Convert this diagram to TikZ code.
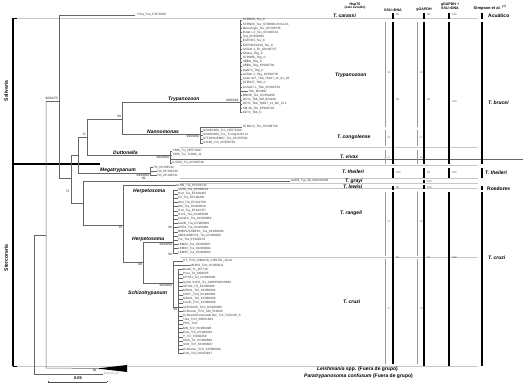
\documentclass[tikz,border=0pt]{standalone}
\usepackage{fontspec}
\setmainfont{Liberation Sans}
\begin{document}
\begin{tikzpicture}[x=1pt,y=-1pt,
 tr/.style={draw=black!60,line width=0.5pt},
 sep/.style={draw=black!22,line width=0.5pt},
 tx/.style={font=\fontsize{3.1}{3.3}\selectfont,inner sep=0pt,anchor=west,text=black!80},
 bs/.style={font=\fontsize{3.2}{3.4}\selectfont,inner sep=0.3pt,text=black!85},
 cl/.style={font=\fontsize{5}{5.5}\selectfont\bfseries\itshape,inner sep=0pt},
 hd/.style={font=\fontsize{3.6}{4}\selectfont\bfseries,inner sep=0pt,align=center},
 gbar/.style={draw=black!40,line width=0.9pt},
 kbar/.style={draw=black,line width=1.9pt},
 gn/.style={font=\fontsize{2.6}{2.8}\selectfont,inner sep=0pt,anchor=west,text=black!50},
 kn/.style={font=\fontsize{2.6}{2.8}\selectfont,inner sep=0pt,anchor=west,text=black!75},
 rl/.style={font=\fontsize{5}{5.5}\selectfont\bfseries,inner sep=0pt,anchor=west},
]
\useasboundingbox (0,0) rectangle (523,385);

% ---------- separators ----------
\draw[sep] (13,18.5) -- (478,18.5);
\foreach \yy in {147.5,165.3,177.8,183.4,188.3,257.6} {\draw[sep] (180,\yy) -- (478,\yy);}
\draw[sep] (13,366.5) -- (478,366.5);

% ---------- left bracket ----------
\draw[black,line width=1.1pt] (13,18.5) -- (13,366.5);
\draw[black,line width=1.1pt] (13,18.5) -- (17,18.5);
\draw[black,line width=1.1pt] (13,366.5) -- (17,366.5);
\draw[black,line width=1.1pt] (13,164) -- (100,164);
\fill[black] (13,164) circle (1.3pt);
\node[font=\fontsize{5}{5.5}\selectfont\bfseries,rotate=90,inner sep=0pt] (sal) at (6,91) {Salivaria};
\node[font=\fontsize{5}{5.5}\selectfont\bfseries,rotate=90,inner sep=0pt] (ster) at (6,258) {Stercoraria};

% ---------- backbone ----------
\coordinate (root) at (34,235);
\coordinate (n46) at (46,235);
\draw[tr] (34,235) -- (34,374) -- (103,374);
\node[tx,text=black!50] (pc) at (104,374) {CUL13\_Pc};
\draw[tr] (root) -- (n46);
\draw[tr] (46,101) -- (46,368) -- (97,368.5);
\fill[black] (97,368.5) -- (127,365) -- (127,372) -- cycle;
\node[bs,anchor=north east] (b99l) at (97,369) {99};
\draw[tr] (46,101) -- (59,101);
\node[bs,anchor=south east] (b868475) at (58.5,100) {86/84/75};
\draw[tr] (59,15) -- (59,178);
\draw[tr] (59,15) -- (135,15);
\node[tx] (tca) at (137,15) {TrCa\_Tca\_FJ970030};
\draw[tr] (59,178) -- (71,178);
\draw[tr] (71,155) -- (71,203);
\node[bs,anchor=east] (b73) at (70,191) {73};
\draw[tr] (71,155) -- (78,155);
\draw[tr] (78,137) -- (78,173);
\draw[tr] (78,137) -- (87,137);
\node[bs,anchor=south east] (b71) at (86.5,136.5) {71};
\draw[tr] (78,173) -- (150,173);
\draw[tr] (87,119) -- (87,155);
\draw[tr] (87,119) -- (122,119);
\node[bs,anchor=south east] (b99a) at (121.5,118.5) {99};
\draw[tr] (87,155) -- (170,155);
\draw[tr] (122,102) -- (122,134);
\draw[tr] (122,102) -- (240,102);
\draw[tr] (122,134) -- (200,134);
\draw[tr] (71,203) -- (83,203);
\draw[tr] (83,181) -- (83,225);
\draw[tr] (83,181) -- (290,181);
\node[tx] (tgr) at (291,181) {ANR4\_Tgr\_IM\_000310059};
\draw[tr] (83,225) -- (123,225);
\node[bs,anchor=north east] (b97) at (123,225.5) {97};
\draw[tr] (123,185.5) -- (123,262);
\draw[tr] (123,185.5) -- (175.5,185.5);
\node[tx] (tle) at (176,185.5) {ULBN\_Tle\_KP208743};
\draw[tr] (123,262) -- (143,262);
\node[bs,anchor=north east] (b98) at (142.5,262.5) {98};
\draw[tr] (143,242) -- (143,283);
\draw[tr] (143,242) -- (173,242);
\draw[tr] (143,283) -- (173,283);

% ---------- clade labels in tree ----------
\node[cl,anchor=south west] (cTz) at (168,101.5) {Trypanozoon};
\node[bs,anchor=south east] (bTz) at (239,101.8) {99/99/99};
\node[cl,anchor=south west] (cNa) at (147,133.5) {Nannomonas};
\node[bs,anchor=north east] (bNa) at (199.5,134.5) {99/99/99};
\node[cl,anchor=south west] (cDu) at (113,154.5) {Duttonella};
\node[bs,anchor=north east] (bDu) at (169.5,155.5) {99/99/99};
\node[cl,anchor=south west] (cMe) at (100,172.5) {Megatrypanum};
\node[bs,anchor=north east] (bMe) at (149.5,173.5) {99/99/99};
\node[bs,anchor=north east] (bMe2) at (146,177) {99};
\node[cl,anchor=west] (cHe1) at (133,191.5) {Herpetosoma};
\node[cl,anchor=south west] (cHe2) at (132,241.5) {Herpetosoma};
\node[bs,anchor=north east] (bHe2) at (172.5,242.5) {99/99/99};
\node[bs,anchor=east] (bHe3) at (172.5,227) {99};
\node[bs,anchor=east] (bHe4) at (172.5,254.5) {99};
\node[cl,anchor=west] (cSc) at (128,293) {Schizotrypanum};
\node[bs,anchor=north east] (bSc) at (172.5,283.5) {99/99/99};

% ---------- Trypanozoon ----------
\draw[tr] (240,20) -- (240,112.4);
\foreach \t [count=\i from 0] in {STIB900\_Tev\_C,STIB900\_Tev\_STIB900-Chr11-01,Merovingio\_Tev\_KP208745,Rotat 1.2\_Tev\_KP208744,Teq\_KP208585,EATRO3\_Tev\_C,EATRO3/2340\_Tev\_C,AnTat1.1\_Tb\_KP208737,Ghana\_Tbg\_C,STIB386\_Tbg\_C,ABBA\_Tbg\_C,ABBA\_Tbg\_KP208736,Dal972\_Tbg\_C,AnTat1.1\_Tbg\_KP208735,Lister 427\_Tbb\_Tb427\_11\_01\_04,STIB247\_Tbb\_C,AnTat17.1\_Tbb\_KP208734,Tbb\_M14697,MBOE\_Tev\_KC351896,927/4\_Tbb\_SM\_824100,927/4\_Tbb\_Tb927\_11\_bm\_v5.1,SM 48\_Tbr\_KP208740,927/4\_Tbb\_C} {
  \pgfmathsetmacro\yy{20+4.2*\i}
  \ifnum\i=17
    \draw[tr] (240,\yy) -- (248,\yy);
    \node[tx] (tz\i) at (248.5,\yy) {\t};
  \else
    \draw[tr] (240,\yy) -- (242.3,\yy);
    \node[tx] (tz\i) at (242.6,\yy) {\t};
  \fi
}

% ---------- T. congolense ----------
\draw[tr] (200,127) -- (200,143);
\draw[tr] (200,127) -- (242.3,127);
\node[tx] (tc0) at (242.6,127) {STIB212\_Tco\_KP208738};
\foreach \t [count=\i from 1] in {ILRAD1800\_Tco\_HE575326,ILRAD3000\_Tco\_T.cong.techr.11,KTT/MSOEM07\_Tco\_KP257564,IL1180\_Tco\_KP208739} {
  \pgfmathsetmacro\yy{127+4*\i}
  \draw[tr] (200,\yy) -- (202.5,\yy);
  \node[tx] (tc\i) at (202.8,\yy) {\t};
}

% ---------- T. vivax ----------
\draw[tr] (170,151) -- (170,163);
\foreach \t/\xx [count=\i from 0] in {Y486\_Tvi\_HE573027/172,Y486\_Tvi\_Tvi486\_11/172,MF/2010/Ab/CVM4004\_alsatPc\_Tvi\_KP208747/176.5,IL3700\_Tvi\_KP208746/172} {
  \pgfmathsetmacro\yy{151+4*\i}
  \draw[tr] (170,\yy) -- (\xx,\yy);
  \node[tx] (tv\i) at (\xx+0.3,\yy) {\t};
}

% ---------- T. theileri ----------
\draw[tr] (150,167.5) -- (150,175.5);
\draw[tr] (150,167.5) -- (152.7,167.5);
\node[tx] (tt0) at (153,167.5) {Tth\_KP208742};
\draw[tr] (150,171.5) -- (156.7,171.5);
\node[tx] (tt1) at (157,171.5) {Tth\_KP208740};
\draw[tr] (150,175.5) -- (156.7,175.5);
\node[tx] (tt2) at (157,175.5) {Tth\_KP208741};

% ---------- T. rangeli ----------
\draw[tr] (173,189.8) -- (173,252.8);
\foreach \t [count=\i from 0] in {SC58\_Tra\_KP208741,H14\_Tra\_EF108420,Cn\_Tra\_EF108426,Wol\_Tra\_EF442768,Dr8\_Tra\_KC960010,H14\_Tra\_EF442767,H121\_Tra\_KC960008,CANAC\_Tra\_KC960002,Gal30\_Tra\_KC960009,SPR4\_Tra\_KC960001,B0BP1/ASBPC1\_Tra\_KC960006,2B01/ASBPC2\_Tra\_KC960005,Tre\_Tra\_EF108479,LEM62\_Tra\_KC960007,LEM63\_Tra\_KC960004,LEM65\_Tra\_KC960003} {
  \pgfmathsetmacro\yy{189.8+4.2*\i}
  \draw[tr] (173,\yy) -- (177.6,\yy);
  \node[tx] (tr\i) at (178,\yy) {\t};
}

% ---------- T. cruzi ----------
\draw[tr] (173,261.2) -- (173,307);
\draw[tr] (173,307) -- (178,307);
\draw[tr] (178,269.6) -- (178,353.6);
\node[bs,anchor=north west,inner sep=0pt] (bSc2) at (173.4,307.6) {99};
\foreach \t [count=\i from 0] in {DT\_TcIII\_10MAHA\_CONTIG\_18.19,M1859\_Tcm\_KC960011,Brazil\_Tc\_307716,Peru\_Tcr\_M26605,CPS31\_Tcr\_KC960999,Sylvio X10/1\_TcI\_ADWP02018834,SP104\_TcI\_KC960988,M5631\_TcII\_KC960992,CM17\_TcIII\_KC960994,M6241\_TcII\_KC960993,CanIII\_TcIV\_KC960996,3215/1026\_TcIV\_KC960995,CLBrener\_TcVI\_SM\_510840,CLBrenerEsmeraldo-like\_TcII\_TcChr36\_S,Tula\_TcVI\_KB561663,PRC\_TcVI,MN\_TcV\_KC960998,Esm\_TcII\_KC960991,Y\_Tcr\_FJ002459,MAS\_Tcr\_KC960989,SO3\_TcV\_KC960997,CLBrener\_TcVI\_KC960999,Esm\_TcII\_KB204187} {
  \pgfmathsetmacro\yy{261.2+4.2*\i}
  \ifnum\i=0
    \draw[tr] (173,\yy) -- (182.6,\yy);
    \node[tx] (tk\i) at (183,\yy) {\t};
  \else\ifnum\i=1
    \draw[tr] (173,\yy) -- (190,\yy);
    \node[tx] (tk\i) at (190.4,\yy) {\t};
  \else
    \draw[tr] (178,\yy) -- (182.6,\yy);
    \node[tx] (tk\i) at (183,\yy) {\t};
  \fi\fi
}

% ---------- species column ----------
\node[cl,anchor=west] (sCa) at (333,15.5) {T. carassi};
\node[cl,anchor=west] (sTz) at (335,75) {Trypanozoon};
\node[cl,anchor=west] (sCo) at (337,137) {T. congolense};
\node[cl,anchor=west] (sVi) at (340,156.5) {T. vivax};
\node[cl,anchor=west] (sTh) at (342,172) {T. theileri};
\node[cl,anchor=west] (sGr) at (345,181) {T. grayi};
\node[cl,anchor=west] (sLe) at (343,186.5) {T. lewisi};
\node[cl,anchor=west] (sRa) at (340,213.5) {T. rangeli};
\node[cl,anchor=west] (sCr) at (343,302) {T. cruzi};

% ---------- header ----------
\node[hd] (hHsp) at (355,6) {Hsp70\\[-0.6pt]{\fontsize{3.2}{3.4}\selectfont(este estudio)}};
\node[hd] (hSSU) at (393,10) {SSU rDNA};
\node[hd] (hGA) at (424,10) {gGAPDH};
\node[hd] (hGS) at (450,6.5) {gGAPDH +\\SSU rDNA};
\node[hd,font=\fontsize{4}{4.4}\selectfont\bfseries] (hSi) at (490,7.5) {Simpson et al. \textsuperscript{(7)}};

% ---------- bars ----------
\foreach \a/\b/\la/\lb/\yy [count=\i] in {22/127/98/100/73,130/146/99/93/138,150/164/97/100/158,192/256/93/100/222,259/364/91/100/309} {
  \draw[gbar] (385,\a) -- (385,\b);
  \draw[gbar] (417,\a) -- (417,\b);
  \node[gn] (ga\i) at (387.3,\yy) {\la};
  \node[gn] (gb\i) at (419.3,\yy) {\lb};
}
\foreach \a/\b in {13/19,22/164,168/178,186/190,192/364} {\draw[kbar] (393,\a) -- (393,\b);}
\foreach \a/\b in {13/19,22/164,168/178,180/183,185.5/189,192/366} {\draw[kbar] (424,\a) -- (424,\b);}
\foreach \a/\b in {13/19,22/164,168/178,192/366} {\draw[kbar] (449,\a) -- (449,\b);}
\foreach \a/\b in {13/19,22/164,168/178,186/190,192/366} {\draw[kbar] (482,\a) -- (482,\b);}
\foreach \l/\yy [count=\i] in {92/15,99/100,100/173,95/188,60/258} {\node[kn] (ka\i) at (396,\yy) {\l};}
\foreach \l/\yy [count=\i] in {98/15,99/100,94/173,100/181.5,100/187.5,70/258} {\node[kn] (kb\i) at (427,\yy) {\l};}
\foreach \l/\yy [count=\i] in {100/15,100/102,100/173,100/258} {\node[kn] (kc\i) at (452,\yy) {\l};}

% ---------- right labels ----------
\node[rl] (rAc) at (488,16) {Acuático};
\node[rl,font=\fontsize{5}{5.5}\selectfont\bfseries\itshape] (rTb) at (488,103) {T. brucei};
\node[rl,font=\fontsize{5}{5.5}\selectfont\bfseries\itshape] (rTt) at (485,173) {T. theileri};
\node[rl] (rRo) at (487,189) {Roedores};
\node[rl,font=\fontsize{5}{5.5}\selectfont\bfseries\itshape] (rTc) at (488,258) {T. cruzi};

% ---------- outgroups ----------
\node[font=\fontsize{5}{5.5}\selectfont\bfseries,inner sep=0pt,anchor=east] (oLe) at (398,369.5) {\textit{Leishmania} spp. (Fuera de grupo)};
\node[font=\fontsize{5}{5.5}\selectfont\bfseries,inner sep=0pt,anchor=east] (oPa) at (413,376) {\textit{Paratrypanosoma confusum} (Fuera de grupo)};

% ---------- scale bar ----------
\coordinate (sb1) at (48,382);
\coordinate (sb2) at (107,382);
\draw[black!70,line width=0.5pt] (sb1) -- (sb2);
\draw[black!70,line width=0.5pt] (48,380.8) -- (sb1) (107,380.8) -- (sb2);
\node[font=\fontsize{4}{4.4}\selectfont\bfseries,inner sep=0pt] (sbl) at (78,378.3) {0.05};
\end{tikzpicture}
\end{document}
